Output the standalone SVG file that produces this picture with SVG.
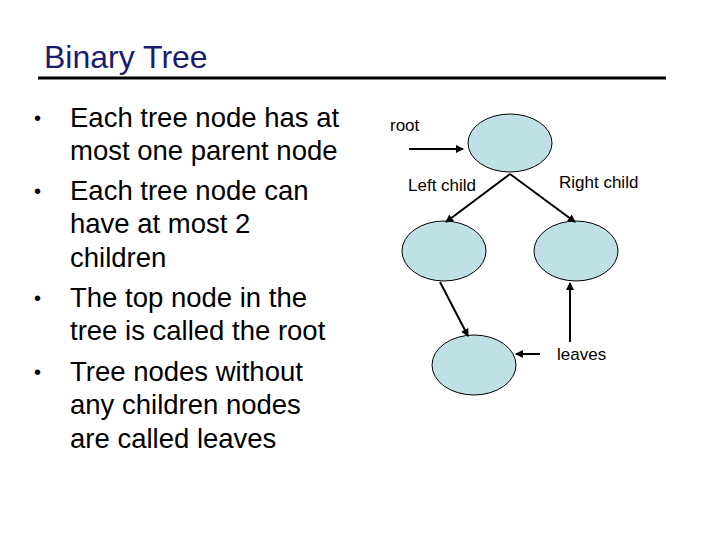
<svg xmlns="http://www.w3.org/2000/svg" width="720" height="540" viewBox="0 0 720 540">
<style>
text{font-family:"Liberation Sans",Arial,sans-serif;fill:#000}
.b{font-size:27.5px}
.d{font-size:20px}
.s{font-size:17px}
.n{fill:#bfe0e4;stroke:#000;stroke-width:1}
.c{stroke:#000;stroke-width:2;marker-end:url(#a)}
</style>
<defs><marker id="a" markerWidth="8" markerHeight="8" refX="7" refY="4" orient="auto" markerUnits="userSpaceOnUse"><path d="M0,0L8,4L0,8z" fill="#000"/></marker></defs>
<rect width="720" height="540" fill="#fff"/>
<text x="44" y="68" font-size="32" style="fill:#1c1c6e">Binary Tree</text>
<line x1="38" y1="78" x2="666" y2="78" stroke="#000" stroke-width="3"/>
<g class="b">
<text class="d" x="34" y="125">•</text><text x="70" y="127">Each tree node has at</text>
<text x="70" y="160">most one parent node</text>
<text class="d" x="34" y="198">•</text><text x="70" y="200">Each tree node can</text>
<text x="70" y="233">have at most 2</text>
<text x="70" y="267">children</text>
<text class="d" x="34" y="305">•</text><text x="70" y="307">The top node in the</text>
<text x="70" y="340">tree is called the root</text>
<text class="d" x="34" y="379">•</text><text x="70" y="381">Tree nodes without</text>
<text x="70" y="414">any children nodes</text>
<text x="70" y="448">are called leaves</text>
</g>
<g id="root"><ellipse class="n" cx="510" cy="143" rx="42" ry="29"/></g>
<g id="left"><ellipse class="n" cx="444" cy="251" rx="42" ry="30"/></g>
<g id="right"><ellipse class="n" cx="576" cy="251" rx="42" ry="30"/></g>
<g id="leaf"><ellipse class="n" cx="474" cy="365" rx="42" ry="30"/></g>
<g id="connectors">
<line class="c" x1="409" y1="149" x2="463" y2="149"/>
<line class="c" x1="510" y1="174" x2="446" y2="222"/>
<line class="c" x1="510" y1="174" x2="575" y2="222"/>
<line class="c" x1="440" y1="282" x2="468" y2="336"/>
<line class="c" x1="570" y1="342" x2="570" y2="283"/>
<line class="c" x1="540" y1="354" x2="516" y2="354"/>
</g>
<g class="s">
<text x="390" y="131">root</text>
<text x="408" y="191">Left child</text>
<text x="559" y="188">Right child</text>
<text x="557" y="360">leaves</text>
</g>
</svg>
